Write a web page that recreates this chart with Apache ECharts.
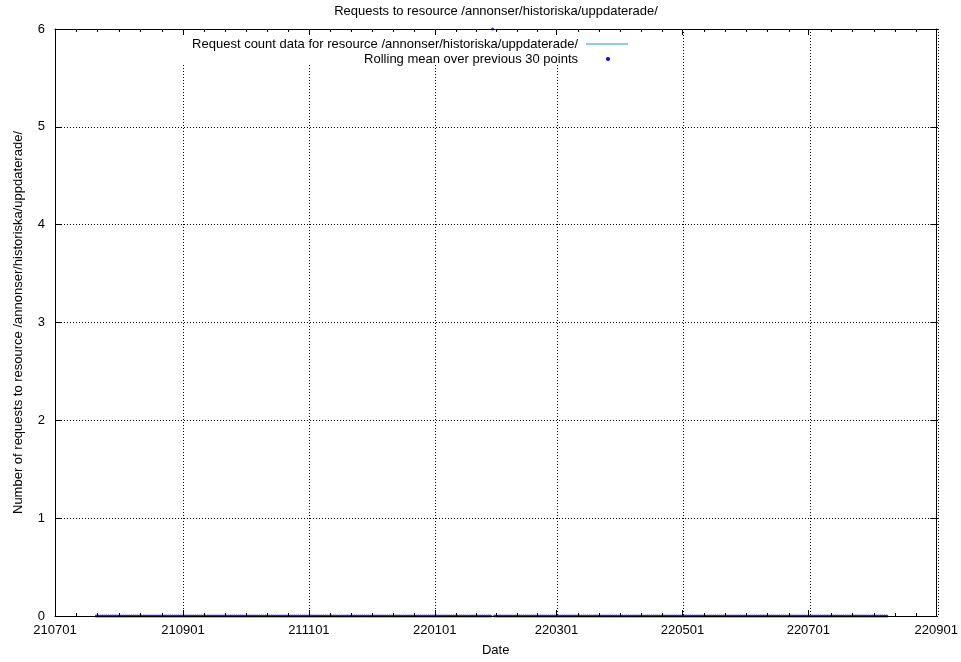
<!DOCTYPE html>
<html>
<head>
<meta charset="utf-8">
<script src="https://cdn.jsdelivr.net/npm/echarts@6/dist/echarts.min.js"></script>
<style>html,body{margin:0;padding:0;background:#fff}#c{width:961px;height:662px}</style>
</head>
<body>
<div id="c"></div>
<script>
// ---- data ----
const titleText = 'Requests to resource /annonser/historiska/uppdaterade/';
const countName = 'Request count data for resource /annonser/historiska/uppdaterade/';
const rollingName = 'Rolling mean over previous 30 points';
const yName = 'Number of requests to resource /annonser/historiska/uppdaterade/';
const xName = 'Date';
const xTickLabels = ['210701','210901','211101','220101','220301','220501','220701','220901'];
const yMin = 0, yMax = 6, yStep = 1;
// daily series starting at this date (one value per day)
const seriesStart = [2021, 7, 21];
// request counts, one row per month (Jul 21 2021 .. Aug 8 2022)
const countValues = [
  0,0,0,0,0,0,0,0,0,0, 0,
  0,0,0,0,0,0,0,0,0,0, 0,0,0,0,0,0,0,0,0,0, 0,0,0,0,0,0,0,0,0,0, 0,
  0,0,0,0,0,0,0,0,0,0, 0,0,0,0,0,0,0,0,0,0, 0,0,0,0,0,0,0,0,0,0,
  0,0,0,0,0,0,0,0,0,0, 0,0,0,0,0,0,0,0,0,0, 0,0,0,0,0,0,0,0,0,0, 0,
  0,0,0,0,0,0,0,0,0,0, 0,0,0,0,0,0,0,0,0,0, 0,0,0,0,0,0,0,0,0,0,
  0,0,0,0,0,0,0,0,0,0, 0,0,0,0,0,0,0,0,0,0, 0,0,0,0,0,0,0,0,0,0, 0,
  0,0,0,0,0,0,0,0,0,0, 0,0,0,0,0,0,0,0,0,0, 0,0,0,0,0,0,0,0,0,0, 0,
  0,0,0,0,0,0,0,0,0,0, 0,0,0,0,0,0,0,0,0,0, 0,0,0,0,0,0,0,0,
  0,0,0,0,0,0,0,0,0,0, 0,0,0,0,0,0,0,0,0,0, 0,0,0,0,0,0,0,0,0,0, 0,
  0,0,0,0,0,0,0,0,0,0, 0,0,0,0,0,0,0,0,0,0, 0,0,0,0,0,0,0,0,0,0,
  0,0,0,0,0,0,0,0,0,0, 0,0,0,0,0,0,0,0,0,0, 0,0,0,0,0,0,0,0,0,0, 0,
  0,0,0,0,0,0,0,0,0,0, 0,0,0,0,0,0,0,0,0,0, 0,0,0,0,0,0,0,0,0,0,
  0,0,0,0,0,0,0,0,0,0, 0,0,0,0,0,0,0,0,0,0, 0,0,0,0,0,0,0,0,0,0, 0,
  0,0,0,0,0,0,0,0
];
// rolling mean, same days
const rollingValues = [
  0,0,0,0,0,0,0,0,0,0, 0,
  0,0,0,0,0,0,0,0,0,0, 0,0,0,0,0,0,0,0,0,0, 0,0,0,0,0,0,0,0,0,0, 0,
  0,0,0,0,0,0,0,0,0,0, 0,0,0,0,0,0,0,0,0,0, 0,0,0,0,0,0,0,0,0,0,
  0,0,0,0,0,0,0,0,0,0, 0,0,0,0,0,0,0,0,0,0, 0,0,0,0,0,0,0,0,0,0, 0,
  0,0,0,0,0,0,0,0,0,0, 0,0,0,0,0,0,0,0,0,0, 0,0,0,0,0,0,0,0,0,0,
  0,0,0,0,0,0,0,0,0,0, 0,0,0,0,0,0,0,0,0,0, 0,0,0,0,0,0,0,0,0,0, 0,
  0,0,0,0,0,0,0,0,0,0, 0,0,0,0,0,0,0,0,0,0, 0,0,0,0,0,0,0,0,6,0, 0,
  0,0,0,0,0,0,0,0,0,0, 0,0,0,0,0,0,0,0,0,0, 0,0,0,0,0,0,0,0,
  0,0,0,0,0,0,0,0,0,0, 0,0,0,0,0,0,0,0,0,0, 0,0,0,0,0,0,0,0,0,0, 0,
  0,0,0,0,0,0,0,0,0,0, 0,0,0,0,0,0,0,0,0,0, 0,0,0,0,0,0,0,0,0,0,
  0,0,0,0,0,0,0,0,0,0, 0,0,0,0,0,0,0,0,0,0, 0,0,0,0,0,0,0,0,0,0, 0,
  0,0,0,0,0,0,0,0,0,0, 0,0,0,0,0,0,0,0,0,0, 0,0,0,0,0,0,0,0,0,0,
  0,0,0,0,0,0,0,0,0,0, 0,0,0,0,0,0,0,0,0,0, 0,0,0,0,0,0,0,0,0,0, 0,
  0,0,0,0,0,0,0,0
];

// ---- build ----
const DAY = 86400000;
function parseYYMMDD(s) {
  return Date.UTC(2000 + +s.slice(0, 2), +s.slice(2, 4) - 1, +s.slice(4, 6));
}
const majorTicks = xTickLabels.map(parseYYMMDD);
const xMin = majorTicks[0], xMax = majorTicks[majorTicks.length - 1];
const minorTicks = [];
for (let i = 0; i < majorTicks.length - 1; i++) {
  const a = majorTicks[i], b = majorTicks[i + 1];
  for (let k = 1; k < 6; k++) minorTicks.push(a + (b - a) * k / 6);
}
const start = Date.UTC(seriesStart[0], seriesStart[1] - 1, seriesStart[2]);
const countData = countValues.map((v, i) => [start + i * DAY, v]);
const rollingData = rollingValues.map((v, i) => [start + i * DAY, v]);

const FONT = '"Liberation Sans", Arial, Helvetica, sans-serif';
const FS = 13;
const gridRect = { left: 55, top: 29, width: 883, height: 587 };
const black = '#000';
const dotted = { color: '#000', width: 1, type: [1, 2] };

function dateAxis(extra) {
  return Object.assign({
    type: 'value', min: xMin, max: xMax, scale: true,
    axisLine: { show: false }, axisLabel: { show: false },
    axisTick: { show: false }, splitLine: { show: false }, minorTick: { show: false }
  }, extra);
}

const option = {
  animation: false,
  backgroundColor: '#fff',
  textStyle: { fontFamily: FONT },
  title: {
    text: titleText, left: 496, top: 5, textAlign: 'center', padding: 0,
    textStyle: { fontFamily: FONT, fontSize: FS, fontWeight: 'normal', color: black }
  },
  grid: [
    Object.assign({}, gridRect),
    Object.assign({}, gridRect),
    Object.assign({}, gridRect)
  ],
  xAxis: [
    dateAxis({
      gridIndex: 0, position: 'bottom', z: 4,
      name: xName, nameLocation: 'middle', nameGap: 28,
      nameTextStyle: { fontFamily: FONT, fontSize: FS, color: black },
      axisLine: { show: true, onZero: false, lineStyle: { color: black, width: 1 } },
      axisTick: { show: true, inside: true, length: 6, customValues: majorTicks, lineStyle: { color: black } },
      axisLabel: {
        show: true, customValues: majorTicks, margin: 8, fontFamily: FONT, fontSize: FS, color: black,
        formatter: v => { const i = majorTicks.indexOf(v); return i >= 0 ? xTickLabels[i] : ''; }
      }
    }),
    dateAxis({
      gridIndex: 0, position: 'top', z: 4,
      axisLine: { show: true, onZero: false, lineStyle: { color: black, width: 1 } },
      axisTick: { show: true, inside: true, length: 6, customValues: majorTicks, lineStyle: { color: black } }
    }),
    dateAxis({
      gridIndex: 1, position: 'bottom', z: 4,
      axisTick: { show: true, inside: true, length: 3, customValues: minorTicks, lineStyle: { color: black } }
    }),
    dateAxis({
      gridIndex: 1, position: 'top', z: 4,
      axisTick: { show: true, inside: true, length: 3, customValues: minorTicks, lineStyle: { color: black } }
    }),
    dateAxis({
      gridIndex: 2, position: 'bottom', z: 0,
      axisTick: { show: false, customValues: majorTicks },
      splitLine: { show: true, lineStyle: dotted }
    })
  ],
  yAxis: [
    {
      type: 'value', gridIndex: 0, position: 'left', min: yMin, max: yMax, interval: yStep, z: 4,
      name: yName, nameLocation: 'middle', nameGap: 30,
      nameTextStyle: { fontFamily: FONT, fontSize: FS, color: black },
      axisLine: { show: true, onZero: false, lineStyle: { color: black, width: 1 } },
      axisTick: { show: true, inside: true, length: 6, lineStyle: { color: black } },
      axisLabel: { show: true, margin: 10, fontFamily: FONT, fontSize: FS, color: black },
      splitLine: { show: false }
    },
    {
      type: 'value', gridIndex: 0, position: 'right', min: yMin, max: yMax, interval: yStep, z: 4,
      axisLine: { show: true, onZero: false, lineStyle: { color: black, width: 1 } },
      axisTick: { show: true, inside: true, length: 6, lineStyle: { color: black } },
      axisLabel: { show: false }, splitLine: { show: false }
    },
    { type: 'value', gridIndex: 1, min: yMin, max: yMax, show: false },
    {
      type: 'value', gridIndex: 2, min: yMin, max: yMax, interval: yStep, z: 0,
      axisLine: { show: false }, axisTick: { show: false }, axisLabel: { show: false },
      splitLine: { show: true, lineStyle: dotted }
    }
  ],
  series: [
    {
      name: countName, type: 'line', xAxisIndex: 0, yAxisIndex: 0,
      data: countData, showSymbol: false, symbol: 'none', z: 2,
      lineStyle: { color: '#87ceeb', width: 1 }, itemStyle: { color: '#87ceeb' }
    },
    {
      name: rollingName, type: 'scatter', xAxisIndex: 0, yAxisIndex: 0,
      data: rollingData, symbolSize: 3, z: 3,
      itemStyle: { color: '#0000ff' }
    }
  ],
  graphic: [
    { type: 'rect', z: 1, silent: true, shape: { x: 176, y: 31, width: 462, height: 34 }, style: { fill: '#fff' } },
    { type: 'text', z: 3, x: 578, y: 44, style: { text: countName, align: 'right', verticalAlign: 'middle', font: FS + 'px ' + FONT, fill: black } },
    { type: 'line', z: 3, shape: { x1: 586, y1: 44, x2: 628, y2: 44 }, style: { stroke: '#87ceeb', lineWidth: 2 } },
    { type: 'text', z: 3, x: 578, y: 59, style: { text: rollingName, align: 'right', verticalAlign: 'middle', font: FS + 'px ' + FONT, fill: black } },
    { type: 'circle', z: 3, shape: { cx: 608, cy: 59, r: 2 }, style: { fill: '#0000ff' } }
  ]
};

const chart = echarts.init(document.getElementById('c'), null, { renderer: 'canvas' });
chart.setOption(option);
</script>
</body>
</html>
